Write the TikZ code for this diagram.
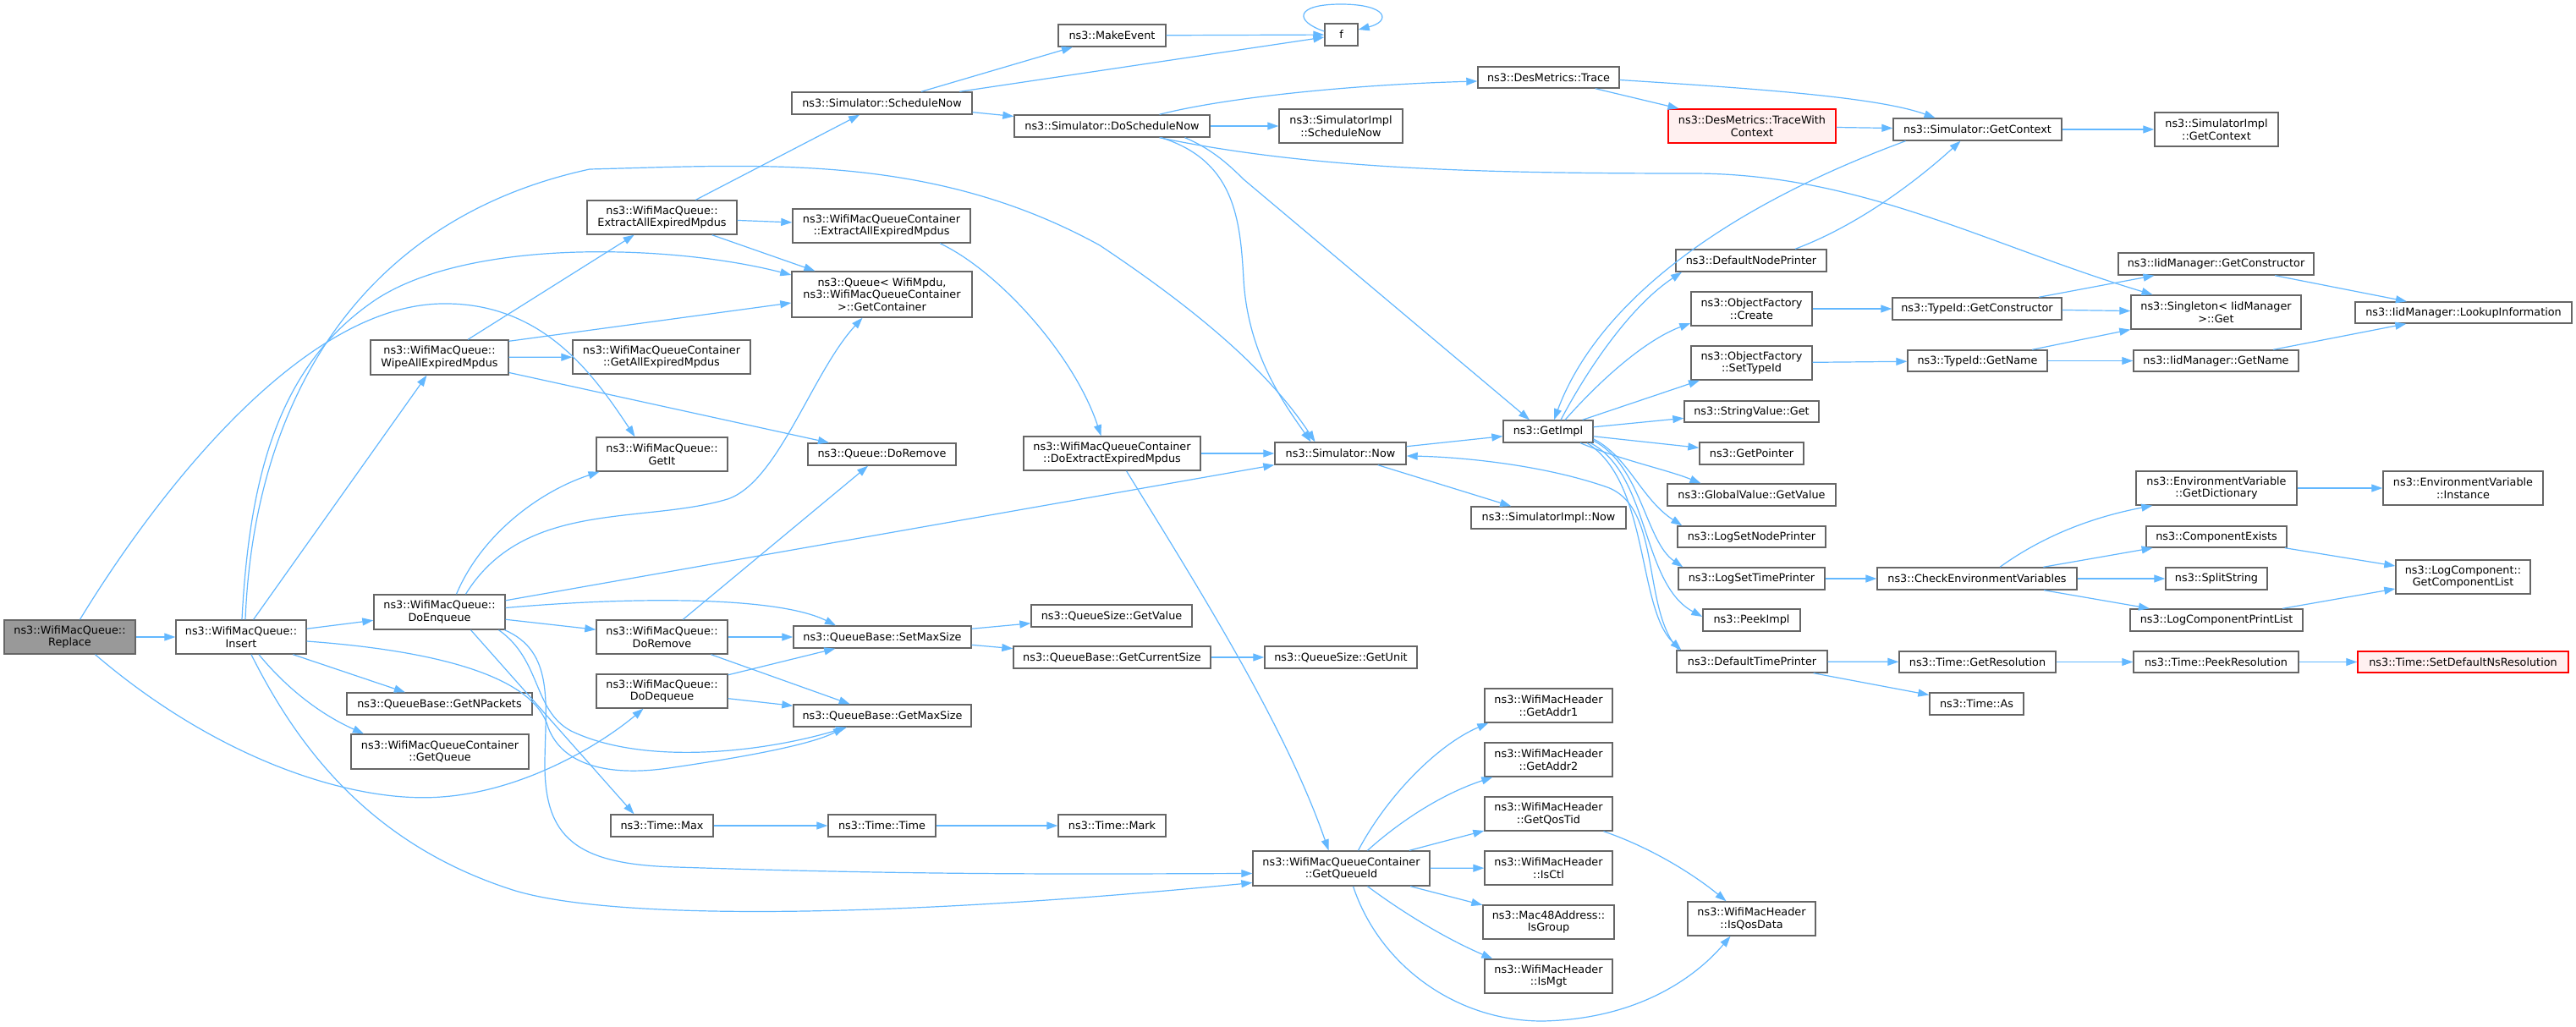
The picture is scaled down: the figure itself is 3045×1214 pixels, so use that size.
\documentclass[tikz,border=0pt]{standalone}
\usepackage{fontspec}
\setmainfont{DejaVu Sans}
\usetikzlibrary{arrows.meta}
\definecolor{edgec}{HTML}{63B8FF}
\definecolor{boxd}{HTML}{666666}
\definecolor{grayfill}{HTML}{999999}
\definecolor{redb}{HTML}{FF0000}
\definecolor{redf}{HTML}{FFF0F0}
\newcommand\nodefont{\fontsize{12.8pt}{14.7pt}\selectfont}
\newcommand\gn[7][]{\node[gbox,#1,minimum width={(#4-#3)*1pt},minimum height={(#6-#5)*1pt}] (#2) at ({(#3+#4)/2},{(#5+#6)/2}) {#7};}
\tikzset{
  gbox/.style={draw=boxd, fill=white, line width=1.4pt, inner sep=0pt, align=center, font=\nodefont},
  selbox/.style={fill=grayfill},
  redbox/.style={draw=redb, fill=redf},
  arr/.style={draw=edgec, line width=1.2pt, -{Triangle[length=13pt,width=9pt]}},
}
\begin{document}
\begin{tikzpicture}[x=1pt,y=-1pt]
\fill[white] (0,0) rectangle (3045,1214);
\useasboundingbox (0,0) rectangle (3045,1214);
% nodes
\gn[selbox]{replace}{5}{160}{733}{773}{ns3::WifiMacQueue::\\Replace}
\gn{insert}{208}{362}{733}{773}{ns3::WifiMacQueue::\\Insert}
\gn{doenq}{442}{597}{703}{744}{ns3::WifiMacQueue::\\DoEnqueue}
\gn{getnpk}{410}{629}{819}{845}{ns3::QueueBase::GetNPackets}
\gn{getqueue}{415}{625}{868}{909}{ns3::WifiMacQueueContainer\\::GetQueue}
\gn{wipe}{438}{601}{402}{443}{ns3::WifiMacQueue::\\WipeAllExpiredMpdus}
\gn{extract}{694}{871}{237}{277}{ns3::WifiMacQueue::\\ExtractAllExpiredMpdus}
\gn{cextract}{937}{1147}{247}{287}{ns3::WifiMacQueueContainer\\::ExtractAllExpiredMpdus}
\gn{getcont}{936}{1149}{321}{375}{ns3::Queue< WifiMpdu,\\ ns3::WifiMacQueueContainer\\ >::GetContainer}
\gn{makeevent}{1251}{1378}{29}{55}{ns3::MakeEvent}
\gn{schednow}{936}{1149}{109}{135}{ns3::Simulator::ScheduleNow}
\gn{doschednow}{1199}{1430}{136}{162}{ns3::Simulator::DoScheduleNow}
\gn{getallexp}{677}{887}{402}{442}{ns3::WifiMacQueueContainer\\::GetAllExpiredMpdus}
\gn{getit}{705}{860}{517}{557}{ns3::WifiMacQueue::\\GetIt}
\gn{qdoremove}{955}{1130}{524}{550}{ns3::Queue::DoRemove}
\gn{doextract}{1210}{1419}{516}{556}{ns3::WifiMacQueueContainer\\::DoExtractExpiredMpdus}
\gn{now}{1507}{1662}{523}{549}{ns3::Simulator::Now}
\gn{doremove}{705}{860}{733}{773}{ns3::WifiMacQueue::\\DoRemove}
\gn{setmax}{938}{1148}{740}{766}{ns3::QueueBase::SetMaxSize}
\gn{getvalue}{1219}{1409}{715}{741}{ns3::QueueSize::GetValue}
\gn{getcur}{1198}{1431}{764}{790}{ns3::QueueBase::GetCurrentSize}
\gn{getunit}{1495}{1675}{764}{790}{ns3::QueueSize::GetUnit}
\gn{dodeq}{705}{860}{797}{837}{ns3::WifiMacQueue::\\DoDequeue}
\gn{getmax}{938}{1148}{833}{859}{ns3::QueueBase::GetMaxSize}
\gn{tmax}{722}{843}{963}{989}{ns3::Time::Max}
\gn{ttime}{979}{1106}{963}{989}{ns3::Time::Time}
\gn{tmark}{1251}{1378}{963}{989}{ns3::Time::Mark}
\gn{getqid}{1481}{1690}{1006}{1047}{ns3::WifiMacQueueContainer\\::GetQueueId}
\gn{addr1}{1755}{1906}{814}{854}{ns3::WifiMacHeader\\::GetAddr1}
\gn{addr2}{1755}{1906}{878}{918}{ns3::WifiMacHeader\\::GetAddr2}
\gn{qostid}{1755}{1906}{942}{982}{ns3::WifiMacHeader\\::GetQosTid}
\gn{isctl}{1755}{1906}{1006}{1046}{ns3::WifiMacHeader\\::IsCtl}
\gn{isgroup}{1753}{1908}{1070}{1110}{ns3::Mac48Address::\\IsGroup}
\gn{ismgt}{1755}{1906}{1134}{1174}{ns3::WifiMacHeader\\::IsMgt}
\gn{isqos}{1995}{2146}{1066}{1106}{ns3::WifiMacHeader\\::IsQosData}
\gn{f}{1566}{1605}{28}{54}{f}
\gn{trace}{1747}{1914}{79}{104}{ns3::DesMetrics::Trace}
\gn{implsched}{1512}{1658}{129}{169}{ns3::SimulatorImpl\\::ScheduleNow}
\gn[redbox]{tracectx}{1972}{2170}{129}{169}{ns3::DesMetrics::TraceWith\\Context}
\gn{getctx}{2238}{2437}{140}{166}{ns3::Simulator::GetContext}
\gn{implctx}{2547}{2693}{133}{173}{ns3::SimulatorImpl\\::GetContext}
\gn{defnode}{1981}{2159}{295}{321}{ns3::DefaultNodePrinter}
\gn{ofcreate}{1999}{2142}{345}{385}{ns3::ObjectFactory\\::Create}
\gn{tidctor}{2237}{2437}{352}{378}{ns3::TypeId::GetConstructor}
\gn{iidctor}{2504}{2735}{299}{325}{ns3::IidManager::GetConstructor}
\gn{singleton}{2519}{2720}{349}{389}{ns3::Singleton< IidManager\\ >::Get}
\gn{lookup}{2784}{3040}{357}{382}{ns3::IidManager::LookupInformation}
\gn{iidname}{2522}{2717}{414}{439}{ns3::IidManager::GetName}
\gn{tidname}{2255}{2420}{414}{439}{ns3::TypeId::GetName}
\gn{ofsettid}{1999}{2142}{409}{449}{ns3::ObjectFactory\\::SetTypeId}
\gn{getimpl}{1777}{1883}{497}{523}{ns3::GetImpl}
\gn{strget}{1991}{2150}{474}{499}{ns3::StringValue::Get}
\gn{getptr}{2009}{2132}{523}{549}{ns3::GetPointer}
\gn{gvget}{1971}{2170}{572}{598}{ns3::GlobalValue::GetValue}
\gn{implnow}{1739}{1922}{599}{625}{ns3::SimulatorImpl::Now}
\gn{lognode}{1983}{2158}{622}{647}{ns3::LogSetNodePrinter}
\gn{logtime}{1984}{2157}{671}{697}{ns3::LogSetTimePrinter}
\gn{checkenv}{2219}{2455}{671}{697}{ns3::CheckEnvironmentVariables}
\gn{peekimpl}{2013}{2128}{720}{746}{ns3::PeekImpl}
\gn{deftime}{1982}{2160}{769}{795}{ns3::DefaultTimePrinter}
\gn{getres}{2245}{2430}{770}{795}{ns3::Time::GetResolution}
\gn{peekres}{2522}{2717}{770}{795}{ns3::Time::PeekResolution}
\gn[redbox]{setdefns}{2787}{3036}{770}{795}{ns3::Time::SetDefaultNsResolution}
\gn{tas}{2281}{2392}{819}{845}{ns3::Time::As}
\gn{envdict}{2525}{2715}{557}{597}{ns3::EnvironmentVariable\\::GetDictionary}
\gn{envinst}{2817}{3006}{557}{597}{ns3::EnvironmentVariable\\::Instance}
\gn{compexists}{2537}{2703}{622}{647}{ns3::ComponentExists}
\gn{splitstr}{2560}{2680}{671}{697}{ns3::SplitString}
\gn{complist}{2832}{2991}{662}{702}{ns3::LogComponent::\\GetComponentList}
\gn{logprint}{2518}{2722}{720}{746}{ns3::LogComponentPrintList}
% straight edges
\foreach \a/\b in {replace/insert, insert/doenq, insert/getnpk, insert/wipe,
  wipe/extract, wipe/getallexp, wipe/qdoremove, extract/schednow, extract/cextract,
  extract/getcont, schednow/makeevent, schednow/f, schednow/doschednow, makeevent/f,
  doschednow/implsched, trace/tracectx, tracectx/getctx, getctx/implctx,
  getimpl/ofsettid, getimpl/strget, getimpl/getptr, now/getimpl, now/implnow,
  ofcreate/tidctor, tidctor/iidctor, tidctor/singleton, tidname/singleton,
  tidname/iidname, iidctor/lookup, iidname/lookup, ofsettid/tidname,
  logtime/checkenv, checkenv/compexists, checkenv/splitstr, checkenv/logprint,
  envdict/envinst, compexists/complist, logprint/complist, deftime/getres,
  deftime/tas, getres/peekres, peekres/setdefns, setmax/getvalue, setmax/getcur,
  getcur/getunit, doremove/qdoremove, doremove/setmax, doremove/getmax,
  dodeq/setmax, dodeq/getmax, tmax/ttime, ttime/tmark, doextract/now,
  getqid/qostid, getqid/isctl, getqid/isgroup, doenq/now, doenq/doremove}
  {\draw[arr] (\a) -- (\b);}
% curved / offset edges
\draw[arr] ([xshift=12pt]replace.north) .. controls (175,600) and (350,362) .. (522,359)
  .. controls (640,357) and (700,440) .. ([xshift=-32pt]getit.north);
\draw[arr] ([xshift=30pt]replace.south) .. controls (260,900) and (420,950) .. (522,942)
  .. controls (620,935) and (710,880) .. ([xshift=-22pt]dodeq.south);
\draw[arr] ([xshift=21pt]insert.south) .. controls (340,815) and (380,845) .. ([xshift=-90pt]getqueue.north);
\draw[arr] ([xshift=1pt]insert.north) .. controls (295,560) and (330,430) .. (446,353)
  .. controls (560,280) and (800,290) .. ([yshift=23pt]getcont.west);
\draw[arr] ([xshift=5pt]insert.north) .. controls (300,480) and (420,260) .. (697,200)
  .. controls (900,195) and (1100,180) .. (1300,290)
  .. controls (1420,370) and (1500,440) .. ([xshift=-30pt]now.north);
\draw[arr] ([yshift=-5pt]insert.east) .. controls (500,768) and (630,795) .. (648,860)
  .. controls (665,905) and (720,918) .. (790,908)
  .. controls (880,895) and (960,880) .. ([xshift=-45pt]getmax.south);
\draw[arr] ([xshift=12pt]insert.south) .. controls (360,900) and (450,1000) .. (600,1050)
  .. controls (700,1085) and (1000,1090) .. ([yshift=-17pt]getqid.west);
\draw[arr] ([xshift=20pt]doenq.north) .. controls (570,630) and (640,580) .. ([xshift=-74pt]getit.south);
\draw[arr] ([xshift=31pt]doenq.north) .. controls (620,590) and (760,620) .. (860,590)
  .. controls (920,570) and (960,440) .. ([xshift=-23pt]getcont.south);
\draw[arr] ([yshift=5pt]doenq.east) .. controls (750,705) and (920,705) .. ([xshift=-55pt]setmax.north);
\draw[arr] ([xshift=70pt]doenq.south) .. controls (640,780) and (630,840) .. (675,864)
  .. controls (760,905) and (900,890) .. ([xshift=-42pt]getmax.south);
\draw[arr] ([xshift=37pt]doenq.south) -- ([xshift=-33pt]tmax.north);
\draw[arr] ([xshift=77pt]doenq.south) .. controls (655,770) and (645,830) .. (644,900)
  .. controls (643,990) and (680,1022) .. (800,1025)
  .. controls (1100,1035) and (1300,1033) .. ([yshift=-6pt]getqid.west);
\draw[arr] ([yshift=-2pt]wipe.north east) -- ([yshift=-10pt]getcont.west);
\draw[arr] ([xshift=69pt]cextract.south) .. controls (1180,320) and (1270,420) .. ([xshift=-13pt]doextract.north);
\draw[arr] ([yshift=4pt]f.west) .. controls (1530,25) and (1530,5) .. (1585,5)
  .. controls (1640,5) and (1645,25) .. ([yshift=6pt]f.east);
\draw[arr] ([xshift=56pt]doschednow.north) .. controls (1450,115) and (1600,100) .. ([yshift=-4.5pt]trace.west);
\draw[arr] ([xshift=56pt]doschednow.south) .. controls (1550,200) and (1750,205) .. (2000,205)
  .. controls (2200,205) and (2350,290) .. ([xshift=-75pt]singleton.north);
\draw[arr] ([xshift=58pt]doschednow.south) .. controls (1460,190) and (1466,260) .. (1470,330)
  .. controls (1475,420) and (1520,480) .. ([xshift=-35pt]now.north);
\draw[arr] ([xshift=86pt]doschednow.south) .. controls (1430,175) and (1450,192) .. (1470,212)
  -- ([xshift=-22pt]getimpl.north);
\draw[arr] ([yshift=-3pt]trace.east) .. controls (2080,105) and (2220,115) .. ([xshift=-50pt]getctx.north);
\draw[arr] ([xshift=-85pt]getctx.south) .. controls (2000,260) and (1880,380) .. ([xshift=7pt]getimpl.north);
\draw[arr] ([xshift=52pt]defnode.north) .. controls (2200,265) and (2270,210) .. ([xshift=-20pt]getctx.south);
\draw[arr] ([xshift=15pt]getimpl.north) .. controls (1880,430) and (1930,360) .. ([xshift=-82pt]defnode.south);
\draw[arr] ([xshift=20pt]getimpl.north) .. controls (1900,440) and (1950,400) .. ([yshift=-17pt]ofcreate.west);
\draw[arr] ([xshift=38pt]getimpl.south) .. controls (1920,545) and (1970,555) .. ([xshift=-60pt]gvget.north);
\draw[arr] ([yshift=-9pt]getimpl.east) .. controls (1925,540) and (1940,590) .. ([xshift=6pt]lognode.north west);
\draw[arr] ([yshift=-11pt]getimpl.east) .. controls (1940,550) and (1945,640) .. ([xshift=6pt]logtime.north west);
\draw[arr] ([xshift=50pt]getimpl.south) .. controls (1950,560) and (1940,690) .. ([yshift=4pt]peekimpl.west);
\draw[arr] ([xshift=46pt]getimpl.south) .. controls (1950,570) and (1935,720) .. ([xshift=6pt]deftime.north west);
\draw[arr] ([xshift=3pt]deftime.north west) .. controls (1940,720) and (1965,600) .. (1900,576)
  .. controls (1820,548) and (1720,540) .. ([yshift=-3pt]now.east);
\draw[arr] ([xshift=17pt]doextract.south) .. controls (1420,700) and (1520,860) .. ([xshift=-15pt]getqid.north);
\draw[arr] ([xshift=20pt]getqid.north) .. controls (1640,940) and (1700,880) .. ([xshift=5pt]addr1.south west);
\draw[arr] ([xshift=31pt]getqid.north) .. controls (1650,975) and (1700,940) .. ([xshift=10pt]addr2.south west);
\draw[arr] ([xshift=31pt]getqid.south) .. controls (1660,1080) and (1710,1110) .. ([xshift=10pt]ismgt.north west);
\draw[arr] ([xshift=14pt]getqid.south) .. controls (1630,1140) and (1720,1207) .. (1823,1207)
  .. controls (1930,1205) and (2000,1160) .. ([xshift=-25pt]isqos.south);
\draw[arr] ([xshift=65pt]qostid.south) .. controls (1960,1005) and (2010,1040) .. ([xshift=-30pt]isqos.north);
\draw[arr] ([xshift=27pt]checkenv.north) .. controls (2420,630) and (2480,610) .. ([xshift=20pt]envdict.south west);
\end{tikzpicture}
\end{document}
